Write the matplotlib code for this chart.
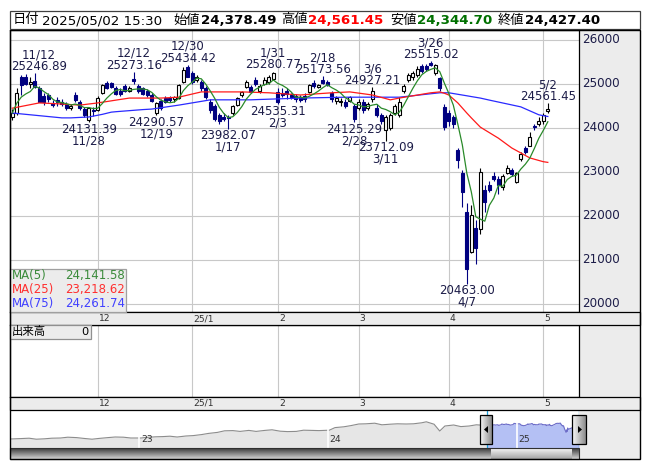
#!/usr/bin/env python3
import numpy as np
import pandas as pd
import matplotlib
matplotlib.use("Agg")
from matplotlib import pyplot as plt
from matplotlib import dates as mdates
from matplotlib import transforms
from matplotlib.colors import LinearSegmentedColormap
from matplotlib.patches import Rectangle, Polygon

W, H = 653, 470

# trading days shown, by month
nov_days = [5, 6, 7, 8, 11, 12, 13, 14, 15, 18, 19, 20, 21, 22, 25, 26, 27, 28, 29]
dec_days = [2, 3, 4, 5, 6, 9, 10, 11, 12, 13, 16, 17, 18, 19, 20, 23, 24, 25, 26, 27, 30]
jan_days = [6, 7, 8, 9, 10, 14, 15, 16, 17, 20, 21, 22, 23, 24, 27, 28, 29, 30, 31]
feb_days = [3, 4, 5, 6, 7, 10, 12, 13, 14, 17, 18, 19, 20, 21, 25, 26, 27, 28]
mar_days = [3, 4, 5, 6, 7, 10, 11, 12, 13, 14, 17, 18, 19, 21, 24, 25, 26, 27, 28, 31]
apr_days = [1, 2, 3, 4, 7, 8, 9, 10, 11, 14, 15, 16, 17, 18, 21, 22, 23, 24, 25, 28, 30]
may_days = [1, 2]

opens = [24250, 24335, 25166, 25166, 25000, 25075, 24900, 24720, 24750, 24560,
         24640, 24600, 24540, 24450, 24750, 24600, 24430, 24180, 24420, 24410,
         24800, 25030, 25030, 24900, 24850, 24950, 24850, 25120, 24950, 24900,
         24850, 24750, 24340, 24620, 24680, 24680, 24650, 24680, 25050, 25380,
         25250, 25100, 25050, 24900, 24600, 24500, 24300, 24250, 24250, 24340,
         24520, 24750, 24930, 24930, 25100, 24840, 25000, 25050, 25120, 24825,
         24800, 24850, 24750, 24720, 24700, 24720, 24825, 25030, 24930, 25080,
         25050, 24800, 24620, 24600, 24580, 24620, 24500, 24450, 24600, 24450,
         24650, 24450, 24300, 23950, 24000, 24350, 24300, 24830, 25100, 25150,
         25200, 25400, 25420, 25480, 25250, 25130, 24480, 24350, 24250, 23500,
         22980, 22100, 21180, 21730, 21700, 22590, 22700, 22900, 22850, 22650,
         22980, 23050, 22770, 23300, 23550, 23600, 24050, 24100, 24150, 24378.49]
highs = [24430, 24905, 25205, 25220, 25150, 25246.89, 24950, 24800, 24800, 24640,
         24700, 24650, 24600, 24550, 24820, 24640, 24480, 24480, 24480, 24720,
         25000, 25060, 25050, 24950, 24900, 24990, 24960, 25273.16, 24990, 24930,
         24880, 24800, 24600, 24660, 24720, 24720, 24730, 25000, 25380, 25434.42,
         25300, 25200, 25100, 24950, 24650, 24550, 24350, 24350, 24300, 24520,
         24700, 24850, 25080, 24980, 25150, 25000, 25150, 25200, 25280.77, 24900,
         24900, 24900, 24800, 24780, 24750, 24800, 25000, 25100, 25000, 25173.56,
         25100, 24850, 24720, 24680, 24650, 24720, 24550, 24650, 24650, 24600,
         24927.21, 24550, 24350, 24300, 24350, 24550, 24700, 25000, 25250, 25300,
         25420, 25450, 25460, 25515.02, 25450, 25150, 24550, 24400, 24300, 23550,
         23050, 22300, 22250, 21900, 23100, 22700, 22800, 23000, 22900, 22950,
         23150, 23100, 23000, 23450, 23600, 23900, 24100, 24250, 24350, 24561.45]
lows = [24180, 24300, 24750, 24970, 24900, 24900, 24580, 24520, 24600, 24480,
        24500, 24500, 24420, 24420, 24600, 24400, 24250, 24131.39, 24280, 24380,
        24780, 24880, 24900, 24750, 24730, 24820, 24820, 25000, 24800, 24750,
        24700, 24600, 24290.57, 24420, 24570, 24600, 24600, 24650, 25030, 25150,
        25000, 25050, 24850, 24650, 24350, 24150, 24100, 24150, 23982.07, 24300,
        24500, 24700, 24900, 24800, 24950, 24800, 24980, 25000, 25080, 24535.31,
        24700, 24650, 24650, 24600, 24600, 24600, 24800, 24900, 24900, 25000,
        24950, 24600, 24550, 24500, 24450, 24580, 24125.29, 24400, 24350, 24400,
        24600, 24250, 24100, 23712.09, 23950, 24300, 24250, 24800, 25050, 25100,
        25150, 25250, 25300, 25400, 25200, 24850, 23950, 24050, 24000, 23100,
        22200, 20463.00, 21150, 20900, 21600, 22100, 22550, 22800, 22500, 22600,
        22950, 22900, 22750, 23250, 23400, 23580, 23950, 24050, 24100, 24344.70]
closes = [24340, 24790, 24977, 24990, 25050, 24925, 24600, 24580, 24650, 24520,
          24600, 24540, 24450, 24500, 24630, 24450, 24290, 24450, 24380, 24680,
          24980, 24900, 24930, 24780, 24780, 24850, 24920, 25060, 24830, 24780,
          24750, 24620, 24560, 24450, 24600, 24640, 24700, 24980, 25320, 25170,
          25050, 25150, 24900, 24700, 24400, 24200, 24150, 24200, 24230, 24500,
          24680, 24820, 25050, 24820, 25000, 24960, 25100, 25150, 25250, 24600,
          24750, 24780, 24700, 24650, 24630, 24650, 24980, 24950, 24980, 25020,
          24980, 24650, 24680, 24620, 24500, 24700, 24200, 24600, 24400, 24550,
          24850, 24300, 24150, 24250, 24300, 24500, 24600, 24950, 25200, 25250,
          25350, 25300, 25330, 25430, 25430, 24900, 24020, 24150, 24100, 23270,
          22550, 20800, 22020, 21270, 23000, 22320, 22600, 22850, 22700, 22900,
          23100, 22950, 22980, 23400, 23450, 23800, 24030.5, 24150, 24300, 24427.40]

ma25 = [24450, 24470, 24490, 24510, 24530, 24550, 24570, 24565, 24560, 24555,
        24550, 24545, 24538, 24532, 24526, 24520, 24532, 24545, 24557, 24570,
        24586, 24601, 24617, 24633, 24649, 24664, 24680, 24680, 24680, 24680,
        24680, 24680, 24680, 24680, 24685, 24690, 24695, 24700, 24724, 24748,
        24772, 24796, 24820, 24820, 24820, 24820, 24820, 24820, 24820, 24820,
        24820, 24820, 24817, 24813, 24810, 24807, 24803, 24800, 24793, 24786,
        24779, 24771, 24764, 24757, 24750, 24757, 24764, 24771, 24779, 24786,
        24793, 24800, 24805, 24810, 24815, 24820, 24806, 24792, 24778, 24764,
        24750, 24722, 24695, 24668, 24640, 24660, 24680, 24697, 24714, 24731,
        24748, 24766, 24783, 24800, 24810, 24820, 24790, 24750, 24660, 24570,
        24455, 24340, 24230, 24125, 24020, 23957, 23895, 23832, 23770, 23695,
        23620, 23545, 23489, 23433, 23376, 23320, 23291, 23262, 23234, 23218.62]
ma75 = [24340, 24330, 24320, 24310, 24300, 24290, 24280, 24270, 24260, 24250,
        24240, 24230, 24230, 24230, 24235, 24240, 24245, 24250, 24270, 24290,
        24310, 24335, 24360, 24370, 24378, 24386, 24394, 24402, 24410, 24418,
        24424, 24430, 24445, 24460, 24475, 24490, 24505, 24520, 24537, 24554,
        24571, 24588, 24605, 24622, 24640, 24640, 24640, 24640, 24640, 24640,
        24640, 24640, 24640, 24640, 24644, 24648, 24651, 24655, 24658, 24662,
        24665, 24669, 24672, 24676, 24680, 24682, 24684, 24686, 24688, 24690,
        24692, 24694, 24696, 24698, 24699, 24700, 24700, 24700, 24700, 24700,
        24700, 24700, 24700, 24700, 24700, 24700, 24700, 24711, 24722, 24733,
        24744, 24756, 24767, 24778, 24789, 24800, 24800, 24800, 24783, 24766,
        24749, 24732, 24714, 24697, 24680, 24657, 24634, 24612, 24590, 24568,
        24546, 24524, 24502, 24480, 24435, 24390, 24345, 24300, 24280, 24261.74]

high_marks = ["2024-11-12", "2024-12-12", "2024-12-30", "2025-01-31", "2025-02-18",
              "2025-03-06", "2025-03-26", "2025-05-02"]
low_marks = ["2024-11-28", "2024-12-19", "2025-01-17", "2025-02-03", "2025-02-28",
             "2025-03-11", "2025-04-07"]

month_labels = ["12", "25/1", "2", "3", "4", "5"]
month_firsts = ["2024-12-02", "2025-01-06", "2025-02-03", "2025-03-03", "2025-04-01", "2025-05-01"]
price_ticks = [20000, 21000, 22000, 23000, 24000, 25000, 26000]

# long-range overview line (before the shown window)
nav_dates = ["2022-04-25", "2022-05-15", "2022-06-01", "2022-06-15", "2022-07-01", "2022-07-15",
             "2022-08-01", "2022-08-15", "2022-09-01", "2022-09-15", "2022-10-01", "2022-10-15",
             "2022-11-01", "2022-11-15", "2022-12-01", "2022-12-15", "2023-01-04", "2023-01-15",
             "2023-02-01", "2023-02-15", "2023-03-01", "2023-03-15", "2023-04-01", "2023-04-15",
             "2023-05-01", "2023-05-15", "2023-06-01", "2023-06-15", "2023-07-01", "2023-07-15",
             "2023-08-01", "2023-08-15", "2023-09-01", "2023-09-15", "2023-10-01", "2023-10-15",
             "2023-11-01", "2023-11-15", "2023-12-01", "2023-12-15", "2024-01-04", "2024-01-15",
             "2024-02-01", "2024-02-15", "2024-03-01", "2024-03-15", "2024-04-01", "2024-04-15",
             "2024-05-01", "2024-05-15", "2024-06-01", "2024-06-15", "2024-07-01", "2024-07-10",
             "2024-07-25", "2024-08-05", "2024-08-15", "2024-09-01", "2024-09-15", "2024-10-01",
             "2024-10-15", "2024-11-01"]
nav_values = [17500, 17700, 17900, 17400, 17600, 17900, 18000, 18400, 18200, 17800, 17400, 17800,
              18200, 18500, 18400, 18000, 18000, 18300, 18600, 18700, 18900, 18500, 19000, 19200,
              19700, 20300, 20800, 21600, 21700, 21300, 21800, 21300, 21800, 22100, 21400, 21200,
              21300, 21900, 21800, 21700, 21900, 23200, 23600, 24200, 25000, 25100, 25400, 24600,
              24900, 25100, 25000, 25100, 25600, 26100, 24900, 21500, 24000, 24500, 23700, 24000,
              24600, 24300]
year_labels = ["23", "24", "25"]
year_starts = ["2023-01-01", "2024-01-01", "2025-01-01"]

header_date = "2025/05/02 15:30"


def box(x0, y0, x1, y1):
    return [x0 / W, 1 - y1 / H, (x1 - x0) / W, (y1 - y0) / H]


def gradient(ax, extent, c0, c1, horizontal=False):
    cm = LinearSegmentedColormap.from_list("g", [c0, c1])
    g = np.linspace(0, 1, 32)
    g = g.reshape(1, -1) if horizontal else g.reshape(-1, 1)
    ax.imshow(g, cmap=cm, extent=extent, aspect="auto", origin="upper", zorder=1)


def main():
    months = [("2024-11", nov_days), ("2024-12", dec_days), ("2025-01", jan_days),
              ("2025-02", feb_days), ("2025-03", mar_days), ("2025-04", apr_days),
              ("2025-05", may_days)]
    dates = pd.to_datetime(["%s-%02d" % (m, d) for m, days in months for d in days])
    o, h, l, c = (np.array(v, dtype=float) for v in (opens, highs, lows, closes))
    n = len(dates)
    x = np.arange(n)
    pos = {d: i for i, d in enumerate(dates)}
    ma5 = pd.Series(c).rolling(5, min_periods=1).mean().values

    fig = plt.figure(figsize=(W / 100, H / 100), dpi=100)
    bg = fig.add_axes([0, 0, 1, 1], zorder=0)
    fg = fig.add_axes([0, 0, 1, 1], zorder=10)
    for a in (bg, fg):
        a.set_xlim(0, W)
        a.set_ylim(H, 0)
        a.axis("off")
    fg.patch.set_alpha(0)

    # right hand grey column and strips
    bg.add_patch(Rectangle((579, 30), 61, 429, fc="#ececec", ec="none"))
    for y0 in (312, 397):
        fg.add_patch(Rectangle((10, y0), 630, 13, fc="#ececec", ec="black", lw=0.9))

    # header
    fg.add_patch(Rectangle((10, 11), 630, 18, fc="white", ec="#404040", lw=0.9))
    jp = ["Noto Sans CJK JP", "DejaVu Sans"]
    fg.text(13, 20, "日付", family=jp, fontsize=9.5, va="center")
    fg.text(42, 20.5, header_date, fontsize=9.6, va="center")
    items = [(173, "始値", 201, opens[-1], "black"), (281, "高値", 308, highs[-1], "#ff0000"),
             (390, "安値", 417, lows[-1], "#007000"), (498, "終値", 525, closes[-1], "black")]
    for lx, lab, vx, val, col in items:
        fg.text(lx, 20, lab, family=jp, fontsize=9.5, va="center")
        fg.text(vx, 20.5, f"{val:,.2f}", fontsize=9.6, fontweight="bold", color=col, va="center")

    # price panel
    ax = fig.add_axes(box(10, 30, 579, 312), zorder=2)
    ax.set_xlim(-0.51, 125.93)
    ax.set_ylim(19818, 26227)
    ax.set_xticks([])
    ax.set_yticks([])
    for sp in ax.spines.values():
        sp.set_color("black")
        sp.set_linewidth(0.9)
    mpos = [pos[pd.Timestamp(d)] for d in month_firsts]
    ax.hlines(price_ticks, -1, 130, color="#c8c8c8", lw=0.8, zorder=0)
    ax.vlines(mpos, 0, 30000, color="#c8c8c8", lw=0.8, zorder=0)
    yt = transforms.blended_transform_factory(ax.transAxes, ax.transData)
    for v in price_ticks:
        ax.text(1.0 + 3 / 569, v, str(v), transform=yt, ha="left", va="center",
                fontsize=8.6, color="#1c1c48", clip_on=False)

    up = c >= o
    navy = "#000080"
    ax.vlines(x[up], l[up], h[up], color="black", lw=0.8, zorder=2)
    ax.vlines(x[~up], l[~up], h[~up], color=navy, lw=0.8, zorder=2)
    bot = np.minimum(o, c)
    hgt = np.maximum(np.abs(c - o), 12)
    ax.bar(x[up], hgt[up], bottom=bot[up], width=0.66, color="white", edgecolor="black",
           lw=0.8, zorder=3)
    ax.bar(x[~up], hgt[~up], bottom=bot[~up], width=0.66, color=navy, edgecolor=navy,
           lw=0.8, zorder=3)

    ax.plot(x, ma75, color="#2a2aff", lw=0.9, zorder=4)
    ax.plot(x, ma25, color="#ff1a1a", lw=0.9, zorder=4)
    ax.plot(x, ma5, color="#2a8a2a", lw=0.9, zorder=4)

    tcol = "#1c1c48"

    def place(i, s):
        hw = len(s) * 3.6 / 4.5
        return min(max(i, -0.51 + hw), 125.93 - hw)

    for d in high_marks:
        i = pos[pd.Timestamp(d)]
        s = f"{h[i]:.2f}"
        xi = place(i, s)
        lab = "%d/%d" % (dates[i].month, dates[i].day)
        ax.annotate(s, (xi, h[i]), xytext=(0, 4.8), textcoords="offset points",
                    ha="center", va="center", fontsize=8.5, color=tcol, zorder=6)
        ax.annotate(lab, (xi, h[i]), xytext=(0, 13.4), textcoords="offset points",
                    ha="center", va="center", fontsize=8.5, color=tcol, zorder=6)
    for d in low_marks:
        i = pos[pd.Timestamp(d)]
        s = f"{l[i]:.2f}"
        xi = place(i, s)
        lab = "%d/%d" % (dates[i].month, dates[i].day)
        ax.annotate(s, (xi, l[i]), xytext=(0, -5.0), textcoords="offset points",
                    ha="center", va="center", fontsize=8.5, color=tcol, zorder=6)
        ax.annotate(lab, (xi, l[i]), xytext=(0, -13.4), textcoords="offset points",
                    ha="center", va="center", fontsize=8.5, color=tcol, zorder=6)

    # MA legend box
    fg.add_patch(Rectangle((10, 269), 116, 43, fc="#ececec", ec="#a0a0a0", lw=0.9))
    rows = [("MA(5)", ma5[-1], "#3a8a3a", 275.5), ("MA(25)", ma25[-1], "#ff3030", 289.5),
            ("MA(75)", ma75[-1], "#4040ff", 303)]
    for name, val, col, yy in rows:
        fg.text(12, yy, name, fontsize=8.5, color=col, va="center")
        fg.text(125, yy, f"{val:,.2f}", fontsize=8.5, color=col, va="center", ha="right")

    # volume panel (empty)
    vol = fig.add_axes(box(10, 325, 579, 397), zorder=2)
    vol.set_xlim(-0.51, 125.93)
    vol.set_ylim(0, 1)
    vol.set_xticks([])
    vol.set_yticks([])
    for sp in vol.spines.values():
        sp.set_color("black")
        sp.set_linewidth(0.9)
    vol.vlines(mpos, 0, 1, color="#c8c8c8", lw=0.8)
    fg.add_patch(Rectangle((10, 325), 81, 14, fc="#ececec", ec="#909090", lw=0.9))
    fg.text(12, 332, "出来高", family=jp, fontsize=8.2, va="center")
    fg.text(89, 332, "0", fontsize=8.2, va="center", ha="right")

    # month labels in both strips
    tb = transforms.blended_transform_factory(ax.transData, fg.transData)
    for p, lab in zip(mpos, month_labels):
        for yy in (318.5, 403.5):
            fg.text(p + 1.0 / 4.5, yy, lab, transform=tb, fontsize=6.6, color="#303030",
                    ha="left", va="center")

    # navigator
    nav = fig.add_axes(box(10, 410, 579, 448), zorder=2)
    nd = mdates.date2num(pd.to_datetime(nav_dates).append(dates))
    nv = np.array(nav_values + list(c))
    k = len(nav_dates)
    nav.fill_between(nd[:k + 1], nv[:k + 1], 0, color="#e6e6e6", lw=0)
    nav.plot(nd[:k + 1], nv[:k + 1], color="#8c8c8c", lw=0.8)
    nav.fill_between(nd[k:], nv[k:], 0, color="#b4c0f4", lw=0)
    nav.plot(nd[k:], nv[k:], color="#6c6cc8", lw=0.8)
    nav.set_xlim(mdates.date2num(pd.Timestamp("2022-04-25")), nd[-1])
    nav.set_ylim(13000, 32000)
    nav.set_xticks([])
    nav.set_yticks([])
    for sp in nav.spines.values():
        sp.set_visible(False)
    tn = transforms.blended_transform_factory(nav.transData, fg.transData)
    for ys, lab in zip(year_starts, year_labels):
        t = mdates.date2num(pd.Timestamp(ys))
        nav.axvline(t, color="white", lw=1.2)
        fg.text(t + 3, 440, lab, transform=tn, fontsize=6.6, color="#303030",
                ha="left", va="center")
    nav.axvline(nd[k], color="#1ea0dc", lw=0.9)
    nav.axvline(nd[-1], color="#1ea0dc", lw=0.9)

    # scrollbar and handles
    gradient(fg, (10, 579, 459, 448), "#3a3a3a", "#d4d4d4")
    gradient(fg, (491, 572, 459, 448), "#f6f6f6", "#a4a4a4")
    fg.add_patch(Rectangle((10, 448), 569, 11, fill=False, ec="#303030", lw=0.8, zorder=2))
    for hx0, hx1 in ((480, 492), (572, 586)):
        gradient(fg, (hx0, hx1, 444, 415), "#fafafa", "#8c8c8c", horizontal=True)
        fg.add_patch(Rectangle((hx0, 415), hx1 - hx0, 29, fill=False, ec="black", lw=0.9, zorder=3))
    fg.add_patch(Polygon([(484, 429.5), (488, 426), (488, 433)], fc="black", ec="none", zorder=4))
    fg.add_patch(Polygon([(582, 429.5), (578, 426), (578, 433)], fc="black", ec="none", zorder=4))

    # outer frame
    fg.add_patch(Rectangle((10, 30), 630, 429, fill=False, ec="black", lw=1.0, zorder=5))
    fg.set_xlim(0, W)
    fg.set_ylim(H, 0)

    fig.savefig("out.png", dpi=100, facecolor="white")


if __name__ == '__main__':
    main()
